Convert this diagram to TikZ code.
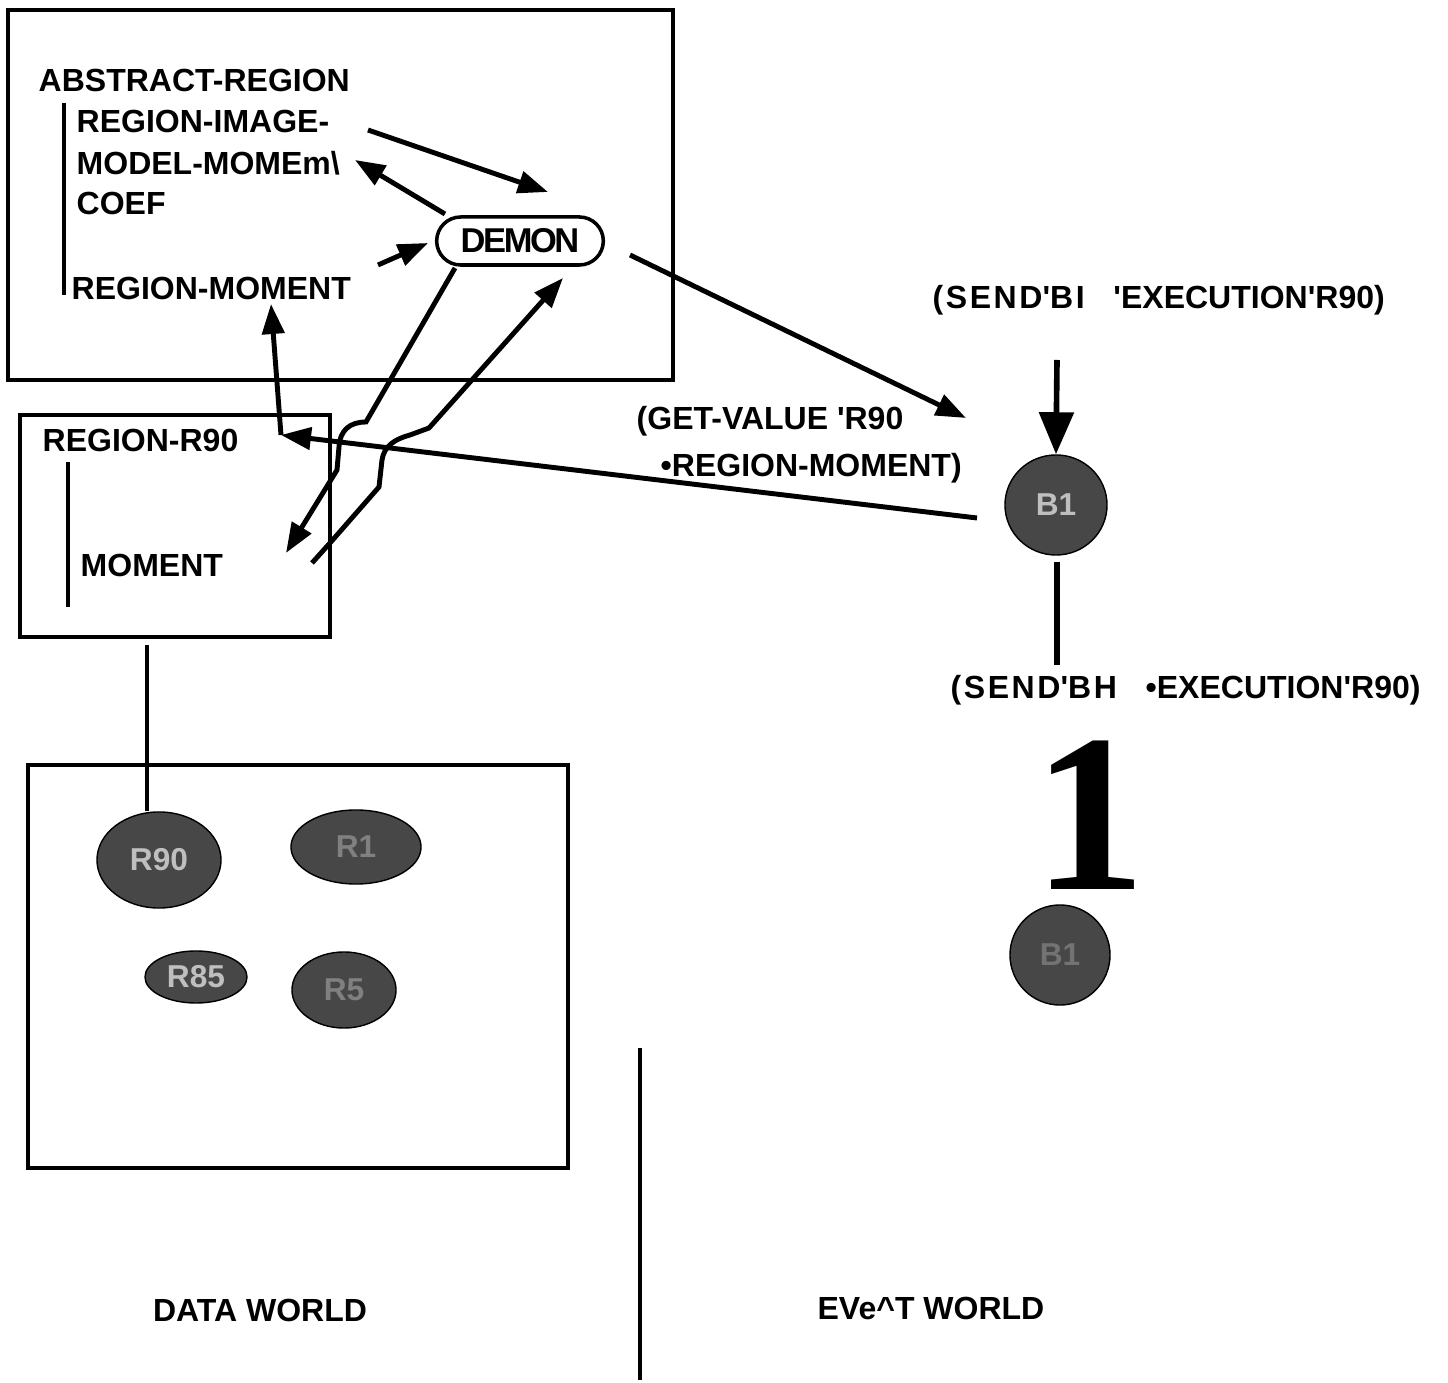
\documentclass[tikz,border=0pt]{standalone}
\usepackage{fontspec}
\setmainfont{Liberation Sans}
\newfontfamily\bigserif{Liberation Serif}
\usetikzlibrary{shapes,arrows.meta,calc}
\tikzset{box/.style={
    draw,
    line width=1.3pt}}
\tikzset{lbl/.style={
    inner sep=0pt,
    anchor=base west,
    font=\fontsize{9.1}{11}\selectfont\bfseries}}
\tikzset{blob/.style={
    ellipse,
    draw,
    fill=black!72,
    inner sep=0pt,
    font=\fontsize{9}{10}\selectfont\bfseries}}
\tikzset{arr/.style={
    ->,
    line width=1.4pt}}
\tikzset{>={Triangle[length=0.3cm,width=0.22cm]}}
\newcommand{\wide}[1]{{\addfontfeature{LetterSpace=8}#1}}

\begin{document}
\begin{tikzpicture}[x=0.01cm, y=-0.01cm]
\useasboundingbox (0,0) rectangle (1448,1383);

% boxes
\node[box, minimum width=6.65cm, minimum height=3.70cm] (abstract) at (340.5,195) {};
\node[box, minimum width=3.10cm, minimum height=2.22cm] (r90box) at (175,526) {};
\node[box, minimum width=5.40cm, minimum height=4.03cm] (data) at (298,966.5) {};

% class tree
\node[lbl] (abs) at (38,92) {ABSTRACT-REGION};
\node[lbl] (img) at (76,133) {REGION-IMAGE-};
\node[lbl] (mom) at (76,175) {MODEL-MOMEm\textbackslash};
\node[lbl] (coef) at (76,215) {COEF};
\node[lbl] (rmom) at (71,300) {REGION-MOMENT};
\draw[line width=0.9pt] (64,103) -- (64,295);

\node[rounded rectangle,
  draw,
  line width=1pt,
  minimum width=1.9cm,
  minimum height=0.48cm,
  font=\fontsize{9.8}{11}\selectfont\bfseries\addfontfeature{LetterSpace=-7}] (demon) at (520,241) {DEMON};

% instance
\node[lbl] (rr90) at (42,452) {REGION-R90};
\draw[line width=0.9pt] (68,462) -- (68,607);
\node[lbl] (moment) at (80,577) {MOMENT};

\node[lbl] (get1) at (636,430) {(GET-VALUE \textquotesingle R90};
\node[lbl] (get2) at (660,477) {\textbullet REGION-MOMENT)};

% event world
\node[lbl] (send1) at (932,309) {\wide{(SEND\textquotesingle BI}\hspace{0.9em}\textquotesingle EXECUTION\textquotesingle R90)};
\node[lbl] (send2) at (950,699) {\wide{(SEND\textquotesingle BH}\hspace{0.9em}\textbullet EXECUTION\textquotesingle R90)};
\node[blob, minimum width=1.02cm, minimum height=1.0cm, text=black!25] (b1) at (1056,505) {B1};
\node[blob, minimum width=1.0cm, minimum height=1.0cm, text=black!55] (b2) at (1060,955) {B1};
\node[inner sep=0pt,
  anchor=base,
  font=\bigserif\fontsize{64}{64}\selectfont\bfseries] (one) at (1090,890) {1};

% data world
\node[blob, minimum width=1.24cm, minimum height=0.96cm, text=black!25] (r90) at (159,860) {R90};
\node[blob, minimum width=1.30cm, minimum height=0.74cm, text=black!50] (r1) at (356,847) {R1};
\node[blob, minimum width=1.02cm, minimum height=0.52cm, text=black!25] (r85) at (196,977) {R85};
\node[blob, minimum width=1.04cm, minimum height=0.76cm, text=black!50] (r5) at (344,990) {R5};

\node[lbl, anchor=base] (dw) at (260,1322) {DATA WORLD};
\node[lbl, anchor=base] (ew) at (931,1320) {EVe\textasciicircum T WORLD};
\draw[line width=1.1pt] (640,1048) -- (640,1380);

% arrow ends
\coordinate (imgtail) at (368,130);
\coordinate (demtop) at (548,192);
\coordinate (demleft) at (445,214);
\coordinate (momtip) at (355,160);
\coordinate (rmtail) at (378,265);
\coordinate (demin) at (428,243);
\coordinate (rmtip) at (271,304);
\coordinate (corner) at (281,435);
\coordinate (b1tail) at (977,518);
\coordinate (demright) at (630,255);
\coordinate (b1in) at (966,418);
\coordinate (demlow) at (455,268);
\coordinate (mtip) at (286,553);
\coordinate (mtail) at (312,563);
\coordinate (demtip) at (563,278);
\coordinate (sendtail) at (1057,360);
\coordinate (b1end) at (1057,665);
\coordinate (dtop) at (147,645);

\draw[arr] (imgtail) -- (demtop);
\draw[arr] (demleft) -- (momtip);
\draw[arr] (rmtail) -- (demin);
\draw[arr] (b1tail) -- (corner);
\draw[arr] (corner) -- (rmtip);
\draw[arr] (demright) -- (b1in);
\draw[arr] (demlow) -- (366,422) .. controls (350,422) and (340,430) .. (339,447) -- (337,470) -- (mtip);
\draw[arr] (mtail) -- (330,543) -- (379,487) -- (382,460) .. controls (384,446) and (395,439) .. (410,435) -- (429,428) -- (demtip);

\draw[->, line width=1.6pt, >={Triangle[length=0.42cm,width=0.34cm]}] (sendtail) -- (b1.north);
\draw[line width=1.6pt] ($(b1.south)+(1,6)$) -- (b1end);
\draw[line width=1.1pt] (dtop) -- (dtop |- r90.north);

\end{tikzpicture}
\end{document}
